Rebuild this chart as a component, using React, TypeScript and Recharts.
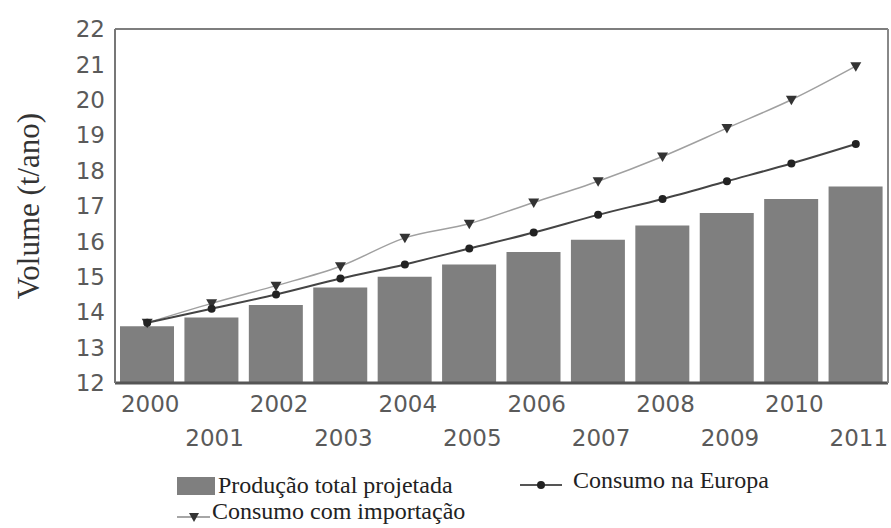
import { ComposedChart, Bar, Line, XAxis, YAxis, CartesianGrid, Legend } from 'recharts';

const years = ['2000', '2001', '2002', '2003', '2004', '2005', '2006', '2007', '2008', '2009', '2010', '2011'];
const producao = [13.6, 13.85, 14.2, 14.7, 15.0, 15.35, 15.7, 16.05, 16.45, 16.8, 17.2, 17.55];
const europa = [13.7, 14.1, 14.5, 14.95, 15.35, 15.8, 16.25, 16.75, 17.2, 17.7, 18.2, 18.75];
const importacao = [13.7, 14.25, 14.75, 15.3, 16.1, 16.5, 17.1, 17.7, 18.4, 19.2, 20.0, 20.95];
const yTicks = [12, 13, 14, 15, 16, 17, 18, 19, 20, 21, 22];

const data = years.map((year, i) => ({
  year,
  producao: producao[i],
  europa: europa[i],
  importacao: importacao[i],
}));

const sans = '"DejaVu Sans", sans-serif';
const serif = '"Liberation Serif", "Times New Roman", serif';

const YearTick = (props: any) => {
  const { x, y, payload, index } = props;
  return (
    <text
      x={x + 3}
      y={y + (index % 2 === 0 ? 21 : 55)}
      textAnchor="middle"
      style={{ fontSize: 23, fontFamily: sans }}
      fill="#5a5a5a"
    >
      {payload.value}
    </text>
  );
};

const Triangle = (props: any) => {
  const { cx, cy } = props;
  if (cx == null || cy == null) return null;
  return <polygon points={`${cx - 5.5},${cy - 4} ${cx + 5.5},${cy - 4} ${cx},${cy + 5.5}`} fill="#333" />;
};

const Dot = (props: any) => {
  const { cx, cy } = props;
  if (cx == null || cy == null) return null;
  return <circle cx={cx} cy={cy} r={4} fill="#222" />;
};

// where each legend entry sits inside the legend box
const legendLayout: Record<string, { x: number; y: number; base: number; textX: number }> = {
  producao: { x: 177, y: 20, base: 28, textX: 218 },
  europa: { x: 520, y: 20, base: 23, textX: 573 },
  importacao: { x: 177, y: 52, base: 54, textX: 212 },
};

const LegendContent = (props: any) => {
  const { payload } = props;
  return (
    <svg width={891} height={63} style={{ display: 'block' }}>
      {(payload || []).map((entry: any) => {
        const pos = legendLayout[entry.dataKey];
        if (!pos) return null;
        return (
          <g key={entry.dataKey}>
            {entry.dataKey === 'producao' && (
              <rect x={pos.x} y={pos.y - 8} width={38} height={18} fill="#7f7f7f" />
            )}
            {entry.dataKey === 'europa' && (
              <g>
                <line x1={pos.x} y1={pos.y} x2={pos.x + 42} y2={pos.y} stroke="#555" strokeWidth={2} />
                <circle cx={pos.x + 21} cy={pos.y} r={4} fill="#222" />
              </g>
            )}
            {entry.dataKey === 'importacao' && (
              <g>
                <line x1={pos.x} y1={pos.y} x2={pos.x + 33} y2={pos.y} stroke="#888" strokeWidth={1.5} />
                <polygon points={`${pos.x + 12},${pos.y - 4} ${pos.x + 22},${pos.y - 4} ${pos.x + 17},${pos.y + 5}`} fill="#333" />
              </g>
            )}
            <text x={pos.textX} y={pos.base} style={{ fontSize: 24, fontFamily: serif }} fill="#222">
              {entry.value}
            </text>
          </g>
        );
      })}
    </svg>
  );
};

export default function App() {
  return (
    <div style={{ position: 'absolute', left: 0, top: 0, width: 891, height: 528, background: '#fff' }}>
      <ComposedChart width={891} height={528} data={data} margin={{ top: 29, right: 2, left: 0, bottom: 85 }} barCategoryGap={5}>
        <CartesianGrid vertical={false} stroke="#7e7e7e" strokeWidth={2} />
        <XAxis
          dataKey="year"
          height={60}
          interval={0}
          tick={<YearTick />}
          tickLine={false}
          axisLine={{ stroke: '#555', strokeWidth: 3 }}
        />
        <YAxis
          yAxisId="left"
          width={115}
          domain={[12, 22]}
          ticks={yTicks}
          interval={0}
          tickLine={false}
          tickMargin={4}
          axisLine={{ stroke: '#777', strokeWidth: 2 }}
          tick={{ fontSize: 23, fontFamily: sans, fill: '#5a5a5a' }}
          label={{
            value: 'Volume (t/ano)',
            angle: -90,
            position: 'center',
            dx: -30,
            style: { fontSize: 31, fontFamily: serif, fill: '#333' },
          }}
        />
        <YAxis
          yAxisId="right"
          orientation="right"
          width={1}
          domain={[12, 22]}
          tick={false}
          tickLine={false}
          axisLine={{ stroke: '#888', strokeWidth: 2 }}
        />
        <Bar yAxisId="left" dataKey="producao" name="Produção total projetada" fill="#7f7f7f" isAnimationActive={false} />
        <Line
          yAxisId="left"
          type="monotone"
          dataKey="importacao"
          name="Consumo com importação"
          stroke="#a0a0a0"
          strokeWidth={1.5}
          dot={<Triangle />}
          activeDot={false}
          isAnimationActive={false}
        />
        <Line
          yAxisId="left"
          type="monotone"
          dataKey="europa"
          name="Consumo na Europa"
          stroke="#444"
          strokeWidth={2}
          dot={<Dot />}
          activeDot={false}
          isAnimationActive={false}
        />
        <Legend
          layout="horizontal"
          verticalAlign="middle"
          align="center"
          content={<LegendContent />}
          wrapperStyle={{ position: 'absolute', left: 0, top: 465, width: 891, height: 63 }}
        />
      </ComposedChart>
    </div>
  );
}
